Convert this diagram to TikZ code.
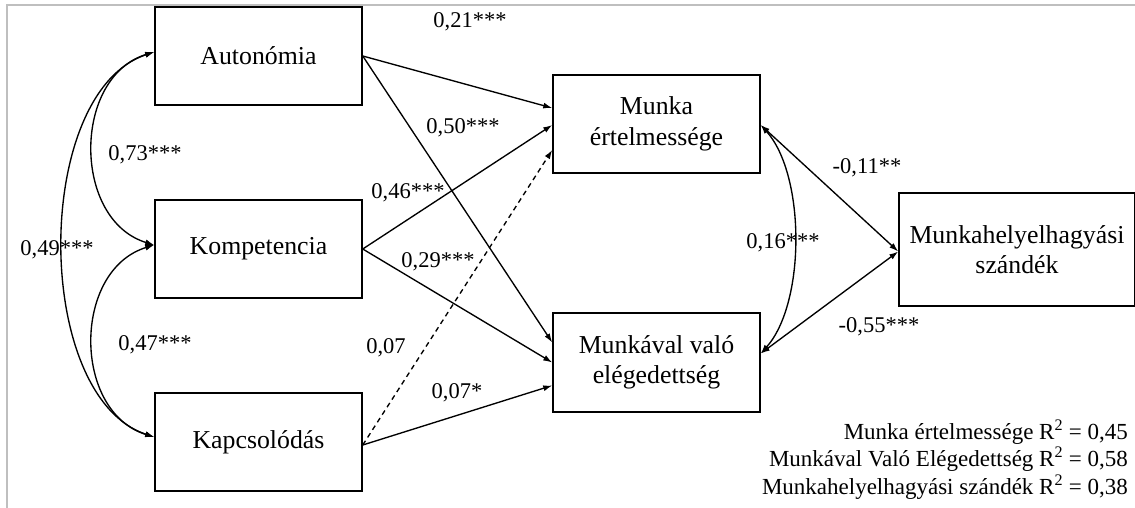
\documentclass[tikz,border=0pt]{standalone}
\usepackage{fontspec}
\setmainfont{Liberation Serif}
\usetikzlibrary{arrows.meta,calc}
\tikzset{
  varbox/.style={draw, line width=1.5pt, minimum width=207pt, minimum height=98pt,
    align=center, inner sep=2pt, font=\fontsize{25.8}{30.5}\selectfont},
  path/.style={line width=1.35pt, -{Latex[length=9pt,width=6pt]}},
  cov/.style={line width=1.35pt, {Latex[length=9pt,width=6pt]}-{Latex[length=9pt,width=6pt]}},
  coef/.style={font=\fontsize{22.5}{26}\selectfont, inner sep=0pt},
  rsq/.style={font=\fontsize{23}{27.5}\selectfont, align=right, inner sep=0pt, anchor=east}
}
\begin{document}
\begin{tikzpicture}[x=1pt,y=-1pt]
  \useasboundingbox (0,0) rectangle (1135,508);
  \fill[white] (0,0) rectangle (1135,508);
  % outer frame
  \draw[black!25, line width=2pt] (7,508) -- (7,5) -- (1135,5);

  % variables
  \node[varbox] (aut) at (258.5,56) {Autonómia};
  \node[varbox] (komp) at (258.5,249) {Kompetencia};
  \node[varbox] (kap) at (258.5,442) {Kapcsolódás};
  \node[varbox] (me) at (656.5,124) {Munka\\értelmessége};
  \node[varbox, minimum height=99pt] (mv) at (656.5,362.5) {Munkával való\\elégedettség};
  \node[varbox, minimum width=236pt, minimum height=113pt] (mh) at (1017,249.5) {Munkahelyelhagyási\\szándék};

  % direct paths
  \draw[path] (aut.east) -- ($(me.west)+(0,-16)$);
  \draw[path] (aut.east) -- ($(mv.west)+(0,-20)$);
  \draw[path] (komp.east) -- ($(me.west)+(0,1)$);
  \draw[path] (komp.east) -- ($(mv.west)+(0,0)$);
  \draw[path, dash pattern=on 5pt off 4pt] ($(kap.east)+(0,3)$) -- ($(me.west)+(0,26)$);
  \draw[path] ($(kap.east)+(0,3)$) -- ($(mv.west)+(0,23)$);

  % outcome paths
  \draw[cov] ($(me.east)+(0,1)$) -- ($(mh.west)+(0,2)$);
  \draw[cov] ($(mv.east)+(0,-9)$) -- ($(mh.west)+(0,2)$);
  \draw[cov] ($(me.east)+(0,1)$) .. controls +(45,50) and +(45,-50) .. ($(mv.east)+(0,-9)$);

  % covariances among predictors
  \draw[cov] ($(aut.west)+(0,-4)$) .. controls +(-82,25) and +(-82,-25) .. ($(komp.west)+(0,-4)$);
  \draw[cov] ($(komp.west)+(0,-4)$) .. controls +(-82,25) and +(-82,-25) .. ($(kap.west)+(0,-5)$);
  \draw[cov] ($(aut.west)+(0,-4)$) .. controls +(-122,40) and +(-122,-40) .. ($(kap.west)+(0,-5)$);

  % coefficients
  \node[coef] (c1) at (470,22) {0,21***};
  \node[coef] (c2) at (463,128) {0,50***};
  \node[coef] (c3) at (408,193) {0,46***};
  \node[coef] (c4) at (438,262) {0,29***};
  \node[coef] (c5) at (386,348) {0,07};
  \node[coef] (c6) at (457,393) {0,07*};
  \node[coef] (c7) at (145,155) {0,73***};
  \node[coef] (c8) at (57,250) {0,49***};
  \node[coef] (c9) at (155,345) {0,47***};
  \node[coef] (c10) at (867,168) {-0,11**};
  \node[coef] (c11) at (879,327) {-0,55***};
  \node[coef] (c12) at (783,243) {0,16***};

  % explained variance
  \node[rsq] (r1) at (1128,432) {Munka értelmessége R\textsuperscript{2} = 0,45};
  \node[rsq] (r2) at (1128,459.5) {Munkával Való Elégedettség R\textsuperscript{2} = 0,58};
  \node[rsq] (r3) at (1128,487) {Munkahelyelhagyási szándék R\textsuperscript{2} = 0,38};
\end{tikzpicture}
\end{document}
